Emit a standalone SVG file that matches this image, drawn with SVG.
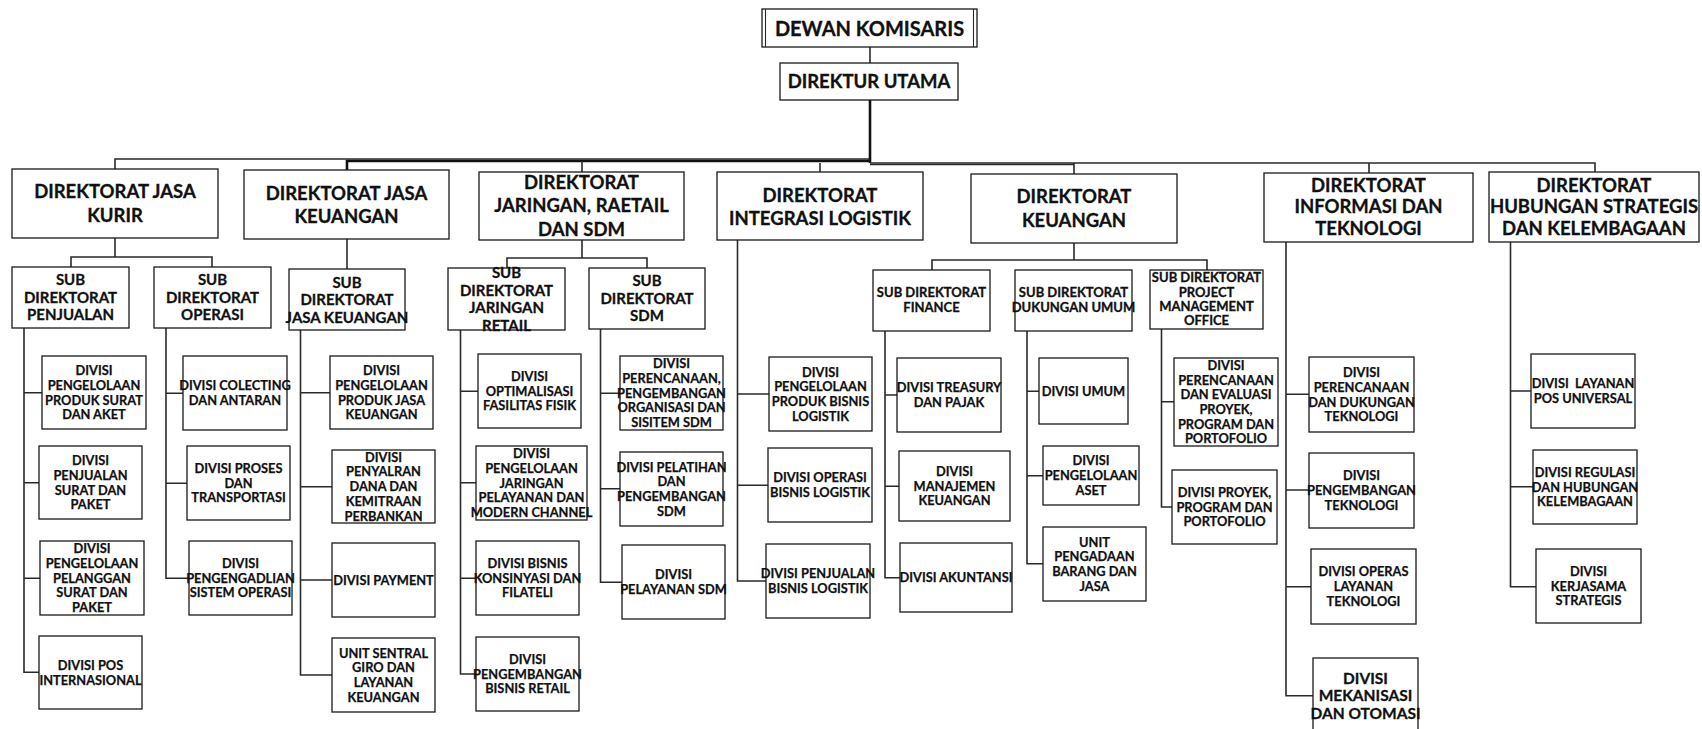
<svg xmlns="http://www.w3.org/2000/svg" width="1702" height="729" viewBox="0 0 1702 729">
<style>
.bx{fill:#fff;stroke:#1a1a1a;stroke-width:1.3}
.cn{fill:none;stroke:#2a2a2a;stroke-width:1.6}
.tk{fill:none;stroke:#111;stroke-width:2.6}
text{font-family:Lato,"Liberation Sans",sans-serif;font-weight:bold;fill:#111;stroke:#111;stroke-width:0.3;text-anchor:middle}
.t0{font-size:20px}
.t1{font-size:18.5px}
.t2{font-size:15px}
.t2s{font-size:13px}
.t3{font-size:12.8px;stroke-width:0.25}
.t4{font-size:15.5px}
</style>
<g id="connectors">
<path class="cn" d="M870,47 V63"/>
<path class="cn" d="M115,169 V159 H870"/>
<path class="tk" d="M347,170 V161 H870"/>
<path class="cn" d="M582,172 V161"/>
<path class="tk" d="M870,100 V163"/>
<path class="cn" d="M870,163 H1595 V172"/>
<path class="cn" d="M870,164.5 H1074"/>
<path class="cn" d="M820,163 V172 M1074,163 V174 M1369,163 V173"/>
<path class="cn" d="M115,238 V257 M71,267 V257 H212 V267"/>
<path class="cn" d="M347,239 V269"/>
<path class="cn" d="M582,240 V258 M507,268 V258 H647 V268"/>
<path class="cn" d="M1074,243 V260 M932,270 V260 H1207 V270"/>
<path class="cn" d="M24,328 V672.3 H39 M24,392.7 H42 M24,482.7 H39 M24,578.3 H40"/>
<path class="cn" d="M166,328 V578.3 H189 M166,393.3 H183 M166,483.3 H187"/>
<path class="cn" d="M300.5,330 V675 H332 M300.5,392.7 H330 M300.5,486.7 H332 M300.5,580 H332"/>
<path class="cn" d="M460.5,330 V674 H476 M460.5,391.3 H478 M460.5,482.7 H476 M460.5,578.3 H476"/>
<path class="cn" d="M600.5,329 V582.3 H622 M600.5,393.3 H620 M600.5,488.7 H620"/>
<path class="cn" d="M737.5,240 V581 H766 M737.5,394 H769 M737.5,485.3 H768"/>
<path class="cn" d="M885,331 V577.7 H900 M885,395 H897 M885,486.3 H899"/>
<path class="cn" d="M1027,331 V563.7 H1043 M1027,391.3 H1039 M1027,475.7 H1043"/>
<path class="cn" d="M1161.5,329 V507 H1172 M1161.5,401.7 H1174"/>
<path class="cn" d="M1286,242 V695.7 H1313 M1286,394.3 H1309 M1286,490 H1309 M1286,586.7 H1311"/>
<path class="cn" d="M1510.5,242 V586.7 H1536 M1510.5,391 H1531 M1510.5,486.7 H1533"/>
</g>

<g id="dewan-komisaris">
<rect class="bx" x="762" y="9" width="215" height="38"/>
<path class="cn" d="M765.5,9 V47 M973.5,9 V47" style="stroke-width:1.1"/>
<text class="t0" x="869.5" y="35.5">DEWAN KOMISARIS</text>
</g>
<g id="direktur-utama">
<rect class="bx" x="780" y="63" width="178" height="37"/>
<text class="t1" x="869" y="88.3">DIREKTUR UTAMA</text>
</g>

<g id="dir-jasa-kurir"><rect class="bx" x="12" y="169" width="206" height="69"/>
<text class="t1"><tspan x="115" y="198.3">DIREKTORAT JASA</tspan><tspan x="115" y="221.6">KURIR</tspan></text></g>
<g id="dir-jasa-keuangan"><rect class="bx" x="244" y="170" width="205" height="69"/>
<text class="t1"><tspan x="346.5" y="199.6">DIREKTORAT JASA</tspan><tspan x="346.5" y="222.9">KEUANGAN</tspan></text></g>
<g id="dir-jaringan"><rect class="bx" x="479" y="172" width="205" height="68"/>
<text class="t1"><tspan x="581.5" y="189">DIREKTORAT</tspan><tspan x="581.5" y="212.3">JARINGAN, RAETAIL</tspan><tspan x="581.5" y="235.6">DAN SDM</tspan></text></g>
<g id="dir-integrasi"><rect class="bx" x="717" y="172" width="206" height="68"/>
<text class="t1"><tspan x="820" y="201.6">DIREKTORAT</tspan><tspan x="820" y="224.9">INTEGRASI LOGISTIK</tspan></text></g>
<g id="dir-keuangan"><rect class="bx" x="971" y="174" width="206" height="69"/>
<text class="t1"><tspan x="1074" y="203.3">DIREKTORAT</tspan><tspan x="1074" y="226.6">KEUANGAN</tspan></text></g>
<g id="dir-informasi"><rect class="bx" x="1264" y="173" width="209" height="69"/>
<text class="t1"><tspan x="1368.5" y="191.6">DIREKTORAT</tspan><tspan x="1368.5" y="213.3">INFORMASI DAN</tspan><tspan x="1368.5" y="234.9">TEKNOLOGI</tspan></text></g>
<g id="dir-hubungan"><rect class="bx" x="1489" y="172" width="210" height="70"/>
<text class="t1"><tspan x="1594" y="191.6">DIREKTORAT</tspan><tspan x="1594" y="213.3">HUBUNGAN STRATEGIS</tspan><tspan x="1594" y="234.9">DAN KELEMBAGAAN</tspan></text></g>

<g id="sub-penjualan"><rect class="bx" x="12" y="267" width="117" height="61"/>
<text class="t2"><tspan x="70.5" y="285.4">SUB</tspan><tspan x="70.5" y="302.9">DIREKTORAT</tspan><tspan x="70.5" y="320.4">PENJUALAN</tspan></text></g>
<g id="sub-operasi"><rect class="bx" x="154" y="267" width="117" height="61"/>
<text class="t2"><tspan x="212.5" y="285.4">SUB</tspan><tspan x="212.5" y="302.9">DIREKTORAT</tspan><tspan x="212.5" y="320.4">OPERASI</tspan></text></g>
<g id="sub-jasa-keuangan"><rect class="bx" x="289" y="269" width="116" height="61"/>
<text class="t2"><tspan x="347" y="287.9">SUB</tspan><tspan x="347" y="305.4">DIREKTORAT</tspan><tspan x="347" y="322.9">JASA KEUANGAN</tspan></text></g>
<g id="sub-jaringan-retail"><rect class="bx" x="448" y="268" width="117" height="62"/>
<text class="t2"><tspan x="506.5" y="278.4">SUB</tspan><tspan x="506.5" y="295.9">DIREKTORAT</tspan><tspan x="506.5" y="313.4">JARINGAN</tspan><tspan x="506.5" y="330.9">RETAIL</tspan></text></g>
<g id="sub-sdm"><rect class="bx" x="589" y="268" width="116" height="61"/>
<text class="t2"><tspan x="647" y="286.4">SUB</tspan><tspan x="647" y="303.9">DIREKTORAT</tspan><tspan x="647" y="321.4">SDM</tspan></text></g>
<g id="sub-finance"><rect class="bx" x="873" y="270" width="117" height="61"/>
<text class="t2s"><tspan x="931.5" y="297.4">SUB DIREKTORAT</tspan><tspan x="931.5" y="312">FINANCE</tspan></text></g>
<g id="sub-dukungan-umum"><rect class="bx" x="1015" y="270" width="117" height="61"/>
<text class="t2s"><tspan x="1073.5" y="297.4">SUB DIREKTORAT</tspan><tspan x="1073.5" y="312">DUKUNGAN UMUM</tspan></text></g>
<g id="sub-pmo"><rect class="bx" x="1150" y="270" width="113" height="59"/>
<text class="t2s"><tspan x="1206.5" y="282.4">SUB DIREKTORAT</tspan><tspan x="1206.5" y="296.7">PROJECT</tspan><tspan x="1206.5" y="311.4">MANAGEMENT</tspan><tspan x="1206.5" y="325.4">OFFICE</tspan></text></g>

<g id="p1"><rect class="bx" x="42" y="356" width="104" height="73"/>
<text class="t3"><tspan x="94" y="375.1">DIVISI</tspan><tspan x="94" y="389.8">PENGELOLAAN</tspan><tspan x="94" y="404.5">PRODUK SURAT</tspan><tspan x="94" y="419.2">DAN AKET</tspan></text></g>
<g id="p2"><rect class="bx" x="39" y="446" width="103" height="73"/>
<text class="t3"><tspan x="90.5" y="465.1">DIVISI</tspan><tspan x="90.5" y="479.8">PENJUALAN</tspan><tspan x="90.5" y="494.5">SURAT DAN</tspan><tspan x="90.5" y="509.2">PAKET</tspan></text></g>
<g id="p3"><rect class="bx" x="40" y="541" width="104" height="74"/>
<text class="t3"><tspan x="92" y="553.2">DIVISI</tspan><tspan x="92" y="567.9">PENGELOLAAN</tspan><tspan x="92" y="582.6">PELANGGAN</tspan><tspan x="92" y="597.3">SURAT DAN</tspan><tspan x="92" y="612">PAKET</tspan></text></g>
<g id="p4"><rect class="bx" x="39" y="636" width="103" height="73"/>
<text class="t3"><tspan x="90.5" y="669.8">DIVISI POS</tspan><tspan x="90.5" y="684.5">INTERNASIONAL</tspan></text></g>

<g id="o1"><rect class="bx" x="183" y="356" width="104" height="74"/>
<text class="t3"><tspan x="235" y="390.3">DIVISI COLECTING</tspan><tspan x="235" y="405">DAN ANTARAN</tspan></text></g>
<g id="o2"><rect class="bx" x="187" y="446" width="103" height="74"/>
<text class="t3"><tspan x="238.5" y="472.9">DIVISI PROSES</tspan><tspan x="238.5" y="487.6">DAN</tspan><tspan x="238.5" y="502.3">TRANSPORTASI</tspan></text></g>
<g id="o3"><rect class="bx" x="189" y="541" width="103" height="74"/>
<text class="t3"><tspan x="240.5" y="567.9">DIVISI</tspan><tspan x="240.5" y="582.6">PENGENGADLIAN</tspan><tspan x="240.5" y="597.3">SISTEM OPERASI</tspan></text></g>

<g id="k1"><rect class="bx" x="330" y="356" width="103" height="73"/>
<text class="t3"><tspan x="381.5" y="375.1">DIVISI</tspan><tspan x="381.5" y="389.8">PENGELOLAAN</tspan><tspan x="381.5" y="404.5">PRODUK JASA</tspan><tspan x="381.5" y="419.2">KEUANGAN</tspan></text></g>
<g id="k2"><rect class="bx" x="332" y="450" width="103" height="73"/>
<text class="t3"><tspan x="383.5" y="461.7">DIVISI</tspan><tspan x="383.5" y="476.4">PENYALRAN</tspan><tspan x="383.5" y="491.1">DANA DAN</tspan><tspan x="383.5" y="505.8">KEMITRAAN</tspan><tspan x="383.5" y="520.5">PERBANKAN</tspan></text></g>
<g id="k3"><rect class="bx" x="332" y="543" width="103" height="74"/>
<text class="t3"><tspan x="383.5" y="584.6">DIVISI PAYMENT</tspan></text></g>
<g id="k4"><rect class="bx" x="332" y="638" width="103" height="74"/>
<text class="t3"><tspan x="383.5" y="657.6">UNIT SENTRAL</tspan><tspan x="383.5" y="672.3">GIRO DAN</tspan><tspan x="383.5" y="687">LAYANAN</tspan><tspan x="383.5" y="701.7">KEUANGAN</tspan></text></g>

<g id="r1"><rect class="bx" x="478" y="354" width="103" height="74"/>
<text class="t3"><tspan x="529.5" y="380.9">DIVISI</tspan><tspan x="529.5" y="395.6">OPTIMALISASI</tspan><tspan x="529.5" y="410.3">FASILITAS FISIK</tspan></text></g>
<g id="r2"><rect class="bx" x="476" y="446" width="111" height="74"/>
<text class="t3"><tspan x="531.5" y="458.2">DIVISI</tspan><tspan x="531.5" y="472.9">PENGELOLAAN</tspan><tspan x="531.5" y="487.6">JARINGAN</tspan><tspan x="531.5" y="502.3">PELAYANAN DAN</tspan><tspan x="531.5" y="517">MODERN CHANNEL</tspan></text></g>
<g id="r3"><rect class="bx" x="476" y="541" width="103" height="74"/>
<text class="t3"><tspan x="527.5" y="567.9">DIVISI BISNIS</tspan><tspan x="527.5" y="582.6">KONSINYASI DAN</tspan><tspan x="527.5" y="597.3">FILATELI</tspan></text></g>
<g id="r4"><rect class="bx" x="476" y="637" width="103" height="74"/>
<text class="t3"><tspan x="527.5" y="663.9">DIVISI</tspan><tspan x="527.5" y="678.6">PENGEMBANGAN</tspan><tspan x="527.5" y="693.3">BISNIS RETAIL</tspan></text></g>

<g id="s1"><rect class="bx" x="620" y="356" width="103" height="74"/>
<text class="t3"><tspan x="671.5" y="368.2">DIVISI</tspan><tspan x="671.5" y="382.9">PERENCANAAN,</tspan><tspan x="671.5" y="397.6">PENGEMBANGAN</tspan><tspan x="671.5" y="412.3">ORGANISASI DAN</tspan><tspan x="671.5" y="427">SISITEM SDM</tspan></text></g>
<g id="s2"><rect class="bx" x="620" y="452" width="103" height="74"/>
<text class="t3"><tspan x="671.5" y="471.6">DIVISI PELATIHAN</tspan><tspan x="671.5" y="486.3">DAN</tspan><tspan x="671.5" y="501">PENGEMBANGAN</tspan><tspan x="671.5" y="515.7">SDM</tspan></text></g>
<g id="s3"><rect class="bx" x="622" y="545" width="103" height="74"/>
<text class="t3"><tspan x="673.5" y="579.3">DIVISI</tspan><tspan x="673.5" y="594">PELAYANAN SDM</tspan></text></g>

<g id="l1"><rect class="bx" x="769" y="357" width="103" height="74"/>
<text class="t3"><tspan x="820.5" y="376.6">DIVISI</tspan><tspan x="820.5" y="391.3">PENGELOLAAN</tspan><tspan x="820.5" y="406">PRODUK BISNIS</tspan><tspan x="820.5" y="420.7">LOGISTIK</tspan></text></g>
<g id="l2"><rect class="bx" x="768" y="448" width="104" height="74"/>
<text class="t3"><tspan x="820" y="482.3">DIVISI OPERASI</tspan><tspan x="820" y="497">BISNIS LOGISTIK</tspan></text></g>
<g id="l3"><rect class="bx" x="766" y="544" width="104" height="74"/>
<text class="t3"><tspan x="818" y="578.3">DIVISI PENJUALAN</tspan><tspan x="818" y="593">BISNIS LOGISTIK</tspan></text></g>

<g id="f1"><rect class="bx" x="897" y="358" width="104" height="74"/>
<text class="t3"><tspan x="949" y="392.3">DIVISI TREASURY</tspan><tspan x="949" y="407">DAN PAJAK</tspan></text></g>
<g id="f2"><rect class="bx" x="899" y="451" width="111" height="70"/>
<text class="t3"><tspan x="954.5" y="475.9">DIVISI</tspan><tspan x="954.5" y="490.6">MANAJEMEN</tspan><tspan x="954.5" y="505.3">KEUANGAN</tspan></text></g>
<g id="f3"><rect class="bx" x="900" y="543" width="112" height="69"/>
<text class="t3"><tspan x="956" y="582.1">DIVISI AKUNTANSI</tspan></text></g>

<g id="d1"><rect class="bx" x="1039" y="358" width="89" height="66"/>
<text class="t3"><tspan x="1083.5" y="395.6">DIVISI UMUM</tspan></text></g>
<g id="d2"><rect class="bx" x="1043" y="446" width="96" height="59"/>
<text class="t3"><tspan x="1091" y="465.4">DIVISI</tspan><tspan x="1091" y="480.1">PENGELOLAAN</tspan><tspan x="1091" y="494.8">ASET</tspan></text></g>
<g id="d3"><rect class="bx" x="1043" y="527" width="103" height="74"/>
<text class="t3"><tspan x="1094.5" y="546.6">UNIT</tspan><tspan x="1094.5" y="561.3">PENGADAAN</tspan><tspan x="1094.5" y="576">BARANG DAN</tspan><tspan x="1094.5" y="590.7">JASA</tspan></text></g>

<g id="m1"><rect class="bx" x="1174" y="358" width="104" height="88"/>
<text class="t3"><tspan x="1226" y="369.9">DIVISI</tspan><tspan x="1226" y="384.6">PERENCANAAN</tspan><tspan x="1226" y="399.3">DAN EVALUASI</tspan><tspan x="1226" y="414">PROYEK,</tspan><tspan x="1226" y="428.7">PROGRAM DAN</tspan><tspan x="1226" y="443.4">PORTOFOLIO</tspan></text></g>
<g id="m2"><rect class="bx" x="1172" y="470" width="105" height="74"/>
<text class="t3"><tspan x="1224.5" y="496.9">DIVISI PROYEK,</tspan><tspan x="1224.5" y="511.6">PROGRAM DAN</tspan><tspan x="1224.5" y="526.3">PORTOFOLIO</tspan></text></g>

<g id="t1"><rect class="bx" x="1309" y="357" width="105" height="75"/>
<text class="t3"><tspan x="1361.5" y="377.1">DIVISI</tspan><tspan x="1361.5" y="391.8">PERENCANAAN</tspan><tspan x="1361.5" y="406.5">DAN DUKUNGAN</tspan><tspan x="1361.5" y="421.2">TEKNOLOGI</tspan></text></g>
<g id="t2"><rect class="bx" x="1309" y="453" width="105" height="75"/>
<text class="t3"><tspan x="1361.5" y="480.4">DIVISI</tspan><tspan x="1361.5" y="495.1">PENGEMBANGAN</tspan><tspan x="1361.5" y="509.8">TEKNOLOGI</tspan></text></g>
<g id="t3"><rect class="bx" x="1311" y="549" width="105" height="75"/>
<text class="t3"><tspan x="1363.5" y="576.4">DIVISI OPERAS</tspan><tspan x="1363.5" y="591.1">LAYANAN</tspan><tspan x="1363.5" y="605.8">TEKNOLOGI</tspan></text></g>
<g id="t4"><rect class="bx" x="1313" y="658" width="105" height="80"/>
<text class="t4"><tspan x="1365.5" y="683.9">DIVISI</tspan><tspan x="1365.5" y="701.2">MEKANISASI</tspan><tspan x="1365.5" y="718.5">DAN OTOMASI</tspan></text></g>

<g id="h1"><rect class="bx" x="1531" y="354" width="104" height="74"/>
<text class="t3"><tspan x="1583" y="388.3" style="white-space:pre">DIVISI  LAYANAN</tspan><tspan x="1583" y="403">POS UNIVERSAL</tspan></text></g>
<g id="h2"><rect class="bx" x="1533" y="450" width="104" height="74"/>
<text class="t3"><tspan x="1585" y="476.9">DIVISI REGULASI</tspan><tspan x="1585" y="491.6">DAN HUBUNGAN</tspan><tspan x="1585" y="506.3">KELEMBAGAAN</tspan></text></g>
<g id="h3"><rect class="bx" x="1536" y="549" width="105" height="74"/>
<text class="t3"><tspan x="1588.5" y="575.9">DIVISI</tspan><tspan x="1588.5" y="590.6">KERJASAMA</tspan><tspan x="1588.5" y="605.3">STRATEGIS</tspan></text></g>
</svg>
